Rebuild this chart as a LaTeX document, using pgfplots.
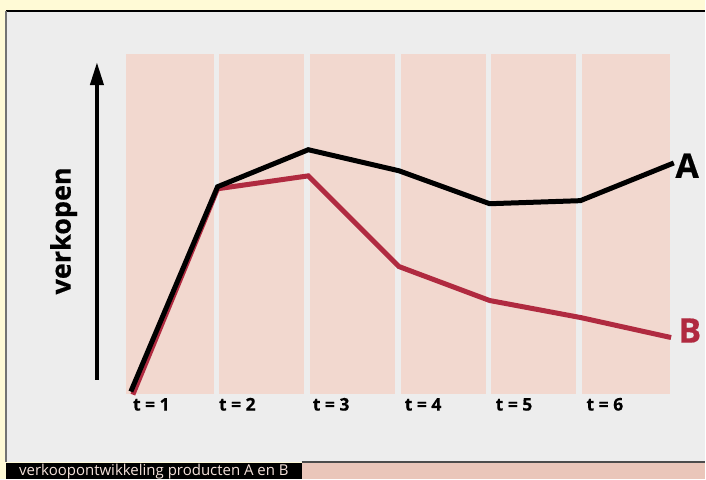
\documentclass[border=0pt]{standalone}
\usepackage{fontspec}
\setmainfont{Open Sans}
\newfontfamily\heavyfont{Open Sans}[BoldFeatures={FakeBold=0.5}]
\usepackage{pgfplots}
\pgfplotsset{compat=1.18}
\usetikzlibrary{arrows.meta}
\definecolor{bgyellow}{HTML}{FFFAD6}
\definecolor{panelgray}{HTML}{EDEDED}
\definecolor{band}{HTML}{F2D8CF}
\definecolor{capbox}{HTML}{EAC6BA}
\definecolor{lineB}{HTML}{B02A40}
\definecolor{captext}{HTML}{F4E1DA}
\begin{document}
\begin{tikzpicture}
\begin{axis}[
  scale only axis, width=706pt, height=480pt,
  xmin=-1.3987, xmax=6.3767, ymin=-25.294, ymax=115.882,
  axis lines=none, ticks=none, clip=false,
]
% backgrounds
\fill[bgyellow] (rel axis cs:0,0) rectangle (rel axis cs:1,1);
\fill[panelgray] (rel axis cs:0.0085,0.0375) rectangle (rel axis cs:1,0.9771);
\draw[black, line width=1.5pt] (rel axis cs:0.0085,0.9771) -- (rel axis cs:1,0.9771);
\draw[black!55, line width=2pt] (rel axis cs:0.0092,0.0375) -- (rel axis cs:0.0092,0.9771);
\fill[black] (rel axis cs:0.0085,0) rectangle (rel axis cs:0.4278,0.0354);
\fill[capbox] (rel axis cs:0.4278,0) rectangle (rel axis cs:1,0.0354);
\draw[black!70, line width=1.5pt] (rel axis cs:0.4278,0.0365) -- (rel axis cs:1,0.0365);
\node[anchor=base west, text=captext, font=\fontsize{15}{15}\selectfont, inner sep=0pt] at (rel axis cs:0.0269,0.0075) {verkoopontwikkeling producten A en B};
% bands
\fill[band] (axis cs:-0.011,0) rectangle (axis cs:0.958,100);
\fill[band] (axis cs:1.016,0) rectangle (axis cs:1.957,100);
\fill[band] (axis cs:2.015,0) rectangle (axis cs:2.959,100);
\fill[band] (axis cs:3.018,0) rectangle (axis cs:3.954,100);
\fill[band] (axis cs:4.017,0) rectangle (axis cs:4.953,100);
\fill[band] (axis cs:5.014,0) rectangle (axis cs:5.991,100);
% series
\addplot[lineB, line width=5pt, line join=miter] coordinates {(0.066,-0.3) (1,60.3) (2,64.1) (3,37.4) (4,27.4) (5,22.4) (6,16.5)};
\addplot[black, line width=5pt, line join=miter] coordinates {(0.044,0.6) (1,60.9) (2,71.8) (3,65.6) (4,55.9) (5,56.8) (6.03,67.9)};
% series labels
\node[anchor=base west, inner sep=0pt, font=\heavyfont\bfseries\fontsize{34}{34}\selectfont] at (axis cs:6.046,63.5) {A};
\node[anchor=base west, inner sep=0pt, text=lineB, font=\heavyfont\bfseries\fontsize{34}{34}\selectfont] at (axis cs:6.079,15.0) {B};
% x labels
\node[anchor=base west, inner sep=0pt, font=\heavyfont\bfseries\fontsize{17.5}{17.5}\selectfont] at (axis cs:0.066,-5) {t = 1};
\node[anchor=base west, inner sep=0pt, font=\heavyfont\bfseries\fontsize{17.5}{17.5}\selectfont] at (axis cs:1.013,-5) {t = 2};
\node[anchor=base west, inner sep=0pt, font=\heavyfont\bfseries\fontsize{17.5}{17.5}\selectfont] at (axis cs:2.048,-5) {t = 3};
\node[anchor=base west, inner sep=0pt, font=\heavyfont\bfseries\fontsize{17.5}{17.5}\selectfont] at (axis cs:3.062,-5) {t = 4};
\node[anchor=base west, inner sep=0pt, font=\heavyfont\bfseries\fontsize{17.5}{17.5}\selectfont] at (axis cs:4.064,-5) {t = 5};
\node[anchor=base west, inner sep=0pt, font=\heavyfont\bfseries\fontsize{17.5}{17.5}\selectfont] at (axis cs:5.066,-5) {t = 6};
% y axis arrow and label
\draw[line width=4pt, -{Triangle[length=23pt,width=13pt]}] (axis cs:-0.330,4.1) -- (axis cs:-0.330,97.6);
\node[anchor=base, rotate=90, inner sep=0pt, font=\heavyfont\bfseries\fontsize{27}{27}\selectfont] at (axis cs:-0.620,47.9) {verkopen};
\end{axis}
\end{tikzpicture}
\end{document}
